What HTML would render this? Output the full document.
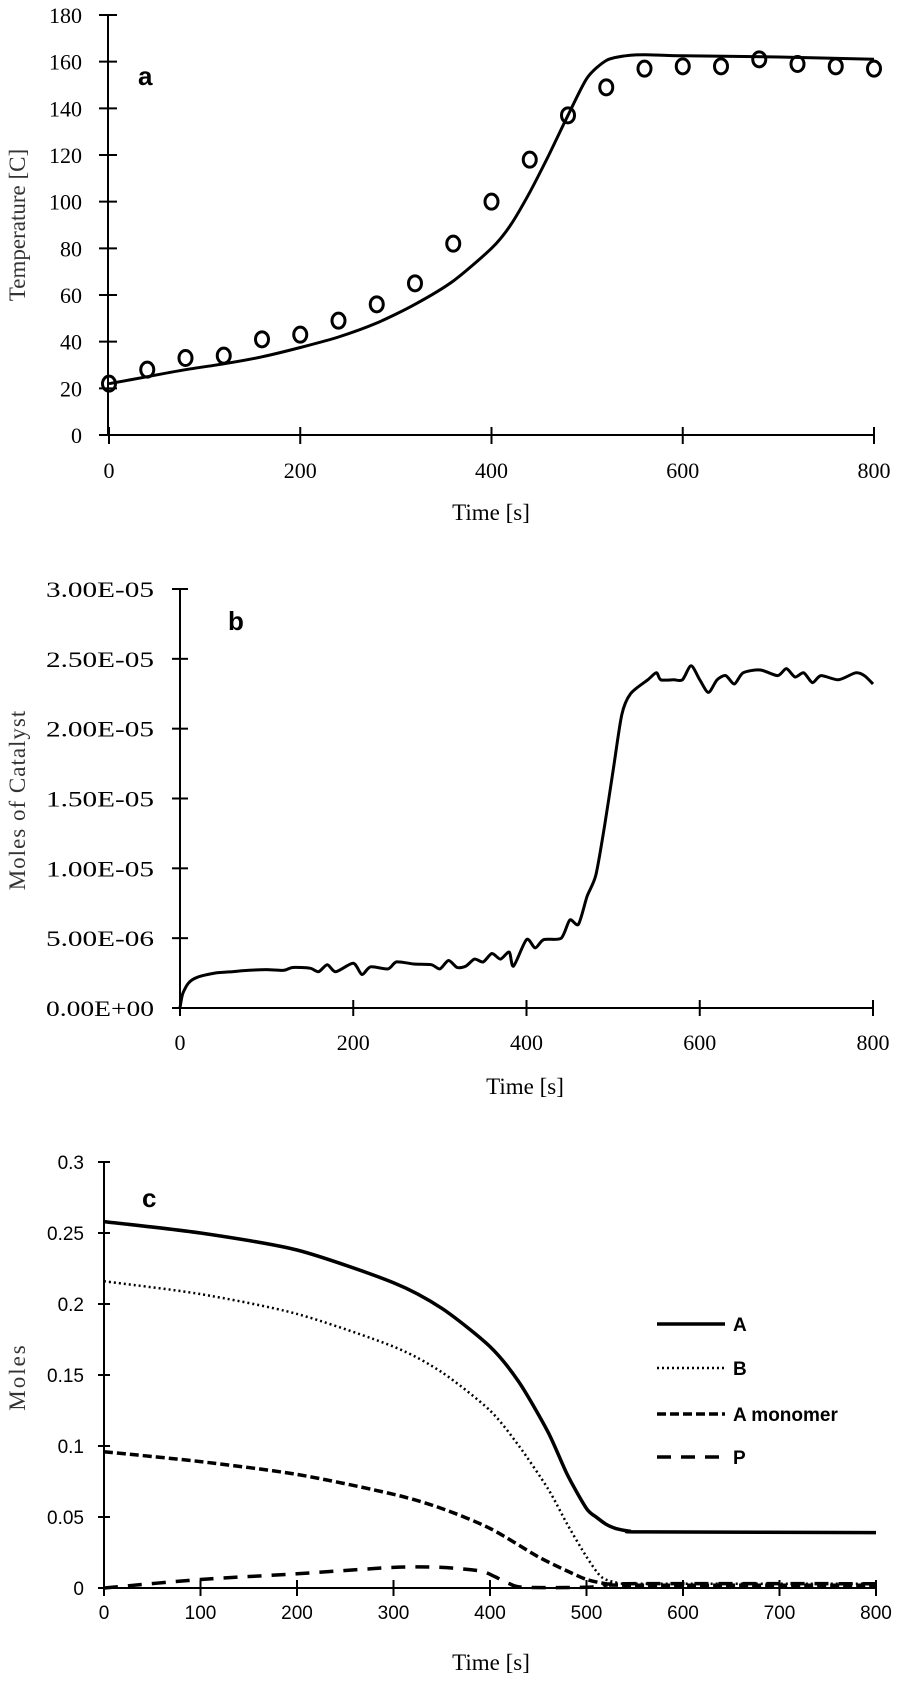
<!DOCTYPE html>
<html><head><meta charset="utf-8"><style>
html,body{margin:0;padding:0;background:#fff;}
svg{display:block;}
.ser{font-family:"Liberation Serif",serif;}
.san{font-family:"Liberation Sans",sans-serif;}
</style></head>
<body>
<svg id="fig" width="898" height="1682" viewBox="0 0 898 1682" xmlns="http://www.w3.org/2000/svg"></svg>
<script>
// Panel a data
const aLineT = [0,40,80,120,160,200,240,280,320,360,400,420,440,460,480,500,520,540,560,600,700,800];
const aLineV = [22,25,28,30.5,33.5,37.5,42,48,56,66,80,90,104,120,137,153,160.5,162.5,163,162.5,162,161];
const aPtsT = [0,40,80,120,160,200,240,280,320,360,400,440,480,520,560,600,640,680,720,760,800];
const aPtsV = [22,28,33,34,41,43,49,56,65,82,100,118,137,149,157,158,158,161,159,158,157];
const aYTicks = [0,20,40,60,80,100,120,140,160,180];
const aXTicks = [0,200,400,600,800];
// Panel b data (units of 1e-6)
const bT = [0,3,10,20,40,60,80,100,120,130,150,160,170,180,200,210,220,240,250,270,290,300,310,320,330,340,350,360,370,380,385,400,410,420,440,450,460,470,480,490,500,510,520,540,550,555,570,580,590,600,610,620,630,640,650,670,690,700,710,720,730,740,760,780,790,800];
const bV = [0,1.0,1.8,2.2,2.5,2.6,2.7,2.75,2.7,2.9,2.85,2.6,3.1,2.6,3.2,2.4,2.95,2.8,3.3,3.15,3.1,2.8,3.4,2.9,3.0,3.5,3.3,3.9,3.5,4.0,3.0,4.9,4.3,4.9,5.0,6.3,6.0,8,9.5,13,17,21,22.5,23.5,24,23.5,23.5,23.5,24.5,23.5,22.6,23.5,23.8,23.2,24,24.2,23.8,24.3,23.7,24,23.3,23.8,23.5,24,23.8,23.2];
const bYTicks = [0,5,10,15,20,25,30];
const bYLabels = ["0.00E+00","5.00E-06","1.00E-05","1.50E-05","2.00E-05","2.50E-05","3.00E-05"];
const bXTicks = [0,200,400,600,800];
// Panel c data
const cAT = [0,100,200,300,350,400,430,460,480,500,510,520,530,545,560,800];
const cAV = [0.258,0.250,0.238,0.215,0.197,0.170,0.145,0.11,0.08,0.056,0.050,0.045,0.042,0.040,0.0395,0.039];
const cBT = [0,100,200,300,350,400,430,460,480,500,515,530,550,800];
const cBV = [0.216,0.207,0.193,0.170,0.152,0.125,0.10,0.07,0.045,0.022,0.008,0.004,0.003,0.003];
const cMT = [0,100,200,300,350,400,450,480,500,520,540,800];
const cMV = [0.096,0.089,0.080,0.066,0.056,0.042,0.022,0.012,0.006,0.003,0.002,0.002];
const cPT = [0,100,200,300,350,390,405,420,435,500,520,540,800];
const cPV = [0.0,0.006,0.010,0.0145,0.0145,0.012,0.008,0.003,0.0005,0.0005,0.002,0.003,0.003];
const cYTicks = [0,0.05,0.1,0.15,0.2,0.25,0.3];
const cYLabels = ["0","0.05","0.1","0.15","0.2","0.25","0.3"];
const cXTicks = [0,100,200,300,400,500,600,700,800];

const NS="http://www.w3.org/2000/svg";
const svg=document.getElementById('fig');
function mk(tag,attrs,parent){const e=document.createElementNS(NS,tag);for(const k in attrs)e.setAttribute(k,attrs[k]);(parent||svg).appendChild(e);return e;}
function txt(s,attrs,parent){const e=mk('text',attrs,parent);e.textContent=s;return e;}
function smooth(pts){
  let d='M'+pts[0][0].toFixed(1)+','+pts[0][1].toFixed(1);
  for(let i=0;i<pts.length-1;i++){
    const p0=pts[Math.max(0,i-1)],p1=pts[i],p2=pts[i+1],p3=pts[Math.min(pts.length-1,i+2)];
    const t=0.13;
    const c1=[p1[0]+(p2[0]-p0[0])*t,p1[1]+(p2[1]-p0[1])*t];
    const c2=[p2[0]-(p3[0]-p1[0])*t,p2[1]-(p3[1]-p1[1])*t];
    d+=' C'+c1[0].toFixed(1)+','+c1[1].toFixed(1)+' '+c2[0].toFixed(1)+','+c2[1].toFixed(1)+' '+p2[0].toFixed(1)+','+p2[1].toFixed(1);
  }
  return d;
}
function lin(d0,d1,r0,r1){return v=>r0+(v-d0)/(d1-d0)*(r1-r0);}

// ===== Panel a =====
{
const g=mk('g',{});  
const x=lin(0,800,109,874), y=lin(0,180,435,15);
mk('line',{x1:108,y1:15,x2:108,y2:435,stroke:'#000','stroke-width':2},g);
mk('line',{x1:108,y1:435,x2:874,y2:435,stroke:'#000','stroke-width':2},g);
aYTicks.forEach(v=>{const l=mk('line',{x1:99,x2:117,y1:y(v),y2:y(v),stroke:'#000','stroke-width':2},g);
 const t=txt(String(v),{x:82,y:y(v)+8,'text-anchor':'end','font-size':22,class:'ser'},g);});
aXTicks.forEach(v=>{const l=mk('line',{x1:x(v),x2:x(v),y1:427,y2:444,stroke:'#000','stroke-width':2},g);
 const t=txt(String(v),{x:x(v),y:478,'text-anchor':'middle','font-size':22,class:'ser'},g);});
const xt=txt('Time [s]',{x:491,y:520,'text-anchor':'middle','font-size':23,class:'ser'},g);
const yt=txt('Temperature [C]',{x:0,y:0,'text-anchor':'middle','font-size':23,class:'ser',fill:'#333',transform:'translate(25,225) rotate(-90)'},g);
const pl=txt('a',{x:138,y:85,'font-size':26,'font-weight':'bold',class:'san'},g);
const path=mk('path',{d:smooth(aLineT.map((t,i)=>[x(t),y(aLineV[i])])),fill:'none',stroke:'#000','stroke-width':3},g);

aPtsT.forEach((t,i)=>{const c=mk('ellipse',{cx:x(t),cy:y(aPtsV[i]),rx:6.5,ry:7.5,fill:'none',stroke:'#000','stroke-width':3},g);
 });
}

// ===== Panel b =====
{
const g=mk('g',{});  
const x=lin(0,800,180,873), y=lin(0,30,1008,589);
mk('line',{x1:180,y1:589,x2:180,y2:1008,stroke:'#000','stroke-width':2},g);
mk('line',{x1:180,y1:1008,x2:873,y2:1008,stroke:'#000','stroke-width':2},g);
bYTicks.forEach((v,i)=>{const l=mk('line',{x1:172,x2:188,y1:y(v),y2:y(v),stroke:'#000','stroke-width':2},g);
 const t=txt(bYLabels[i],{x:154,y:y(v)+8,'text-anchor':'end','font-size':22,class:'ser',textLength:108,lengthAdjust:'spacingAndGlyphs'},g);});
bXTicks.forEach(v=>{const l=mk('line',{x1:x(v),x2:x(v),y1:1000,y2:1016,stroke:'#000','stroke-width':2},g);
 const t=txt(String(v),{x:x(v),y:1050,'text-anchor':'middle','font-size':22,class:'ser'},g);});
const xt=txt('Time [s]',{x:525,y:1094,'text-anchor':'middle','font-size':23,class:'ser'},g);
const yt=txt('Moles of Catalyst',{x:0,y:0,'text-anchor':'middle','font-size':23,class:'ser',fill:'#333','letter-spacing':1,transform:'translate(25,800) rotate(-90)'},g);
const pl=txt('b',{x:228,y:630,'font-size':26,'font-weight':'bold',class:'san'},g);
const path=mk('path',{d:smooth(bT.map((t,i)=>[x(t),y(bV[i])])),fill:'none',stroke:'#000','stroke-width':3},g);

}

// ===== Panel c =====
{
const g=mk('g',{});  
const x=lin(0,800,104,876), y=lin(0,0.3,1588,1162);
mk('line',{x1:104,y1:1162,x2:104,y2:1588,stroke:'#000','stroke-width':2},g);
mk('line',{x1:104,y1:1588,x2:876,y2:1588,stroke:'#000','stroke-width':2},g);
cYTicks.forEach((v,i)=>{const l=mk('line',{x1:98,x2:110,y1:y(v),y2:y(v),stroke:'#000','stroke-width':2},g);
 const t=txt(cYLabels[i],{x:84,y:y(v)+7,'text-anchor':'end','font-size':19,class:'san','font-family':'"Liberation Sans Narrow","Liberation Sans",sans-serif'},g);});
cXTicks.forEach(v=>{const l=mk('line',{x1:x(v),x2:x(v),y1:1580,y2:1596,stroke:'#000','stroke-width':2},g);
 const t=txt(String(v),{x:x(v),y:1619,'text-anchor':'middle','font-size':19,class:'san','font-family':'"Liberation Sans Narrow","Liberation Sans",sans-serif'},g);});
const xt=txt('Time [s]',{x:491,y:1670,'text-anchor':'middle','font-size':23,class:'ser'},g);
const yt=txt('Moles',{x:0,y:0,'text-anchor':'middle','font-size':23,class:'ser','letter-spacing':2,fill:'#333',transform:'translate(25,1377) rotate(-90)'},g);
const pl=txt('c',{x:142,y:1207,'font-size':26,'font-weight':'bold',class:'san'},g);
const series=[
 {t:cAT,v:cAV,dash:'',w:3.5,name:'series-a-line'},
 {t:cBT,v:cBV,dash:'2 3',w:2.5,name:'series-b-line'},
 {t:cMT,v:cMV,dash:'9 4',w:3.5,name:'series-a-monomer-line'},
 {t:cPT,v:cPV,dash:'14 10',w:3.5,name:'series-p-line'}];
series.forEach(s=>{const p=mk('path',{d:smooth(s.t.map((t,i)=>[x(t),y(s.v[i])])),fill:'none',stroke:'#000','stroke-width':s.w,'stroke-dasharray':s.dash},g);
 });
const lg=mk('g',{},g);  
const labs=['A','B','A monomer','P'], ly=[1324,1368,1414,1457];
series.forEach((s,i)=>{const e=mk('g',{},lg);
 mk('line',{x1:657,x2:725,y1:ly[i],y2:ly[i],stroke:'#000','stroke-width':s.w,'stroke-dasharray':s.dash},e);
 txt(labs[i],{x:733,y:ly[i]+7,'font-size':19,'font-weight':'bold',class:'san'},e);});
}
</script>
</body></html>
